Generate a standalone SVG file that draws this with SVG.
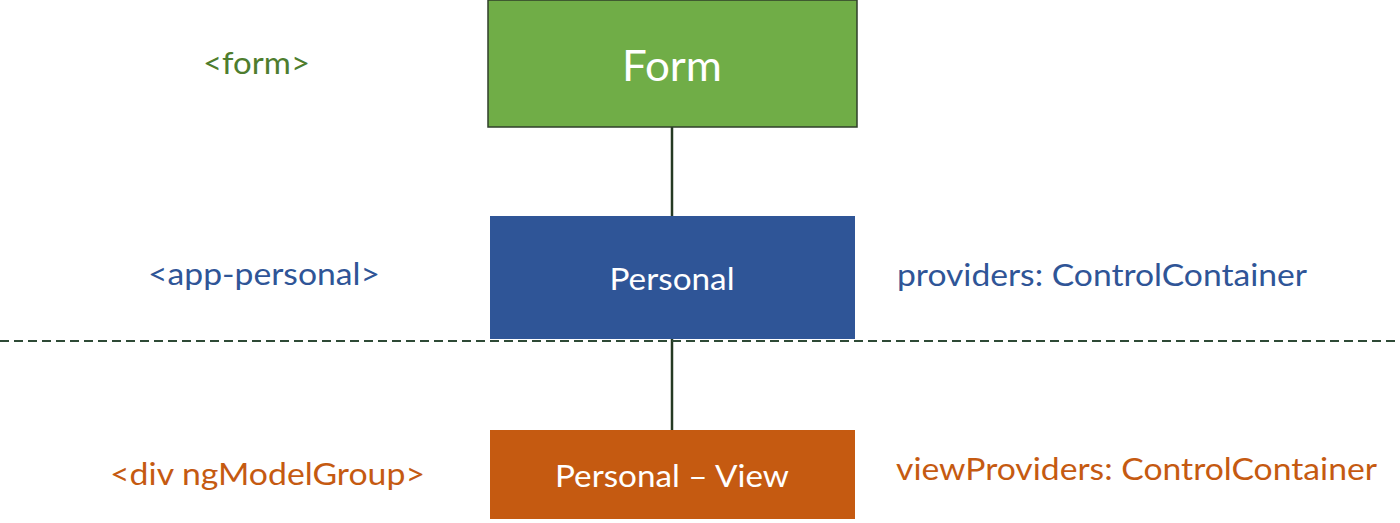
<svg xmlns="http://www.w3.org/2000/svg" width="1400" height="523" viewBox="0 0 1400 523">
<style>
text{font-family:Lato,"Open Sans","Liberation Sans",sans-serif;}
.lbl{font-size:30px;}
.box{font-size:30px;fill:#ffffff;text-anchor:middle;}
.green{fill:#4E7D2E;}
.blue{fill:#2F5597;}
.orange{fill:#C55A11;}
.conn{stroke:#253A23;stroke-width:2.5;fill:none;}
</style>
<rect width="1400" height="523" fill="#ffffff"/>
<g id="connectors">
<line class="conn" x1="672" y1="127" x2="672" y2="216"/>
<line class="conn" x1="672" y1="339" x2="672" y2="430"/>
<line x1="0" y1="341" x2="1400" y2="341" stroke="#2E4A36" stroke-width="2.2" stroke-dasharray="9,5"/>
</g>
<g id="form">
<rect x="488" y="0" width="369" height="127" fill="#70AD47" stroke="#2F3F2A" stroke-width="1.5"/>
<text class="box" x="672" y="81" style="font-size:43px" textLength="100" lengthAdjust="spacingAndGlyphs">Form</text>
<text class="lbl green" x="203" y="74" textLength="107" lengthAdjust="spacingAndGlyphs">&lt;form&gt;</text>
</g>
<g id="personal">
<rect x="490" y="216" width="365" height="123" fill="#2F5597"/>
<text class="box" x="672" y="290" textLength="125" lengthAdjust="spacingAndGlyphs">Personal</text>
<text class="lbl blue" x="148" y="285" textLength="232" lengthAdjust="spacingAndGlyphs">&lt;app-personal&gt;</text>
<text class="lbl blue" x="897" y="286" textLength="410" lengthAdjust="spacingAndGlyphs">providers: ControlContainer</text>
</g>
<g id="personal-view">
<rect x="490" y="430" width="365" height="89" fill="#C55A11"/>
<text class="box" x="672" y="487" style="font-size:31px" textLength="234" lengthAdjust="spacingAndGlyphs">Personal – View</text>
<text class="lbl orange" x="110" y="485" textLength="315" lengthAdjust="spacingAndGlyphs">&lt;div ngModelGroup&gt;</text>
<text class="lbl orange" x="896" y="480" textLength="481" lengthAdjust="spacingAndGlyphs">viewProviders: ControlContainer</text>
</g>
</svg>
